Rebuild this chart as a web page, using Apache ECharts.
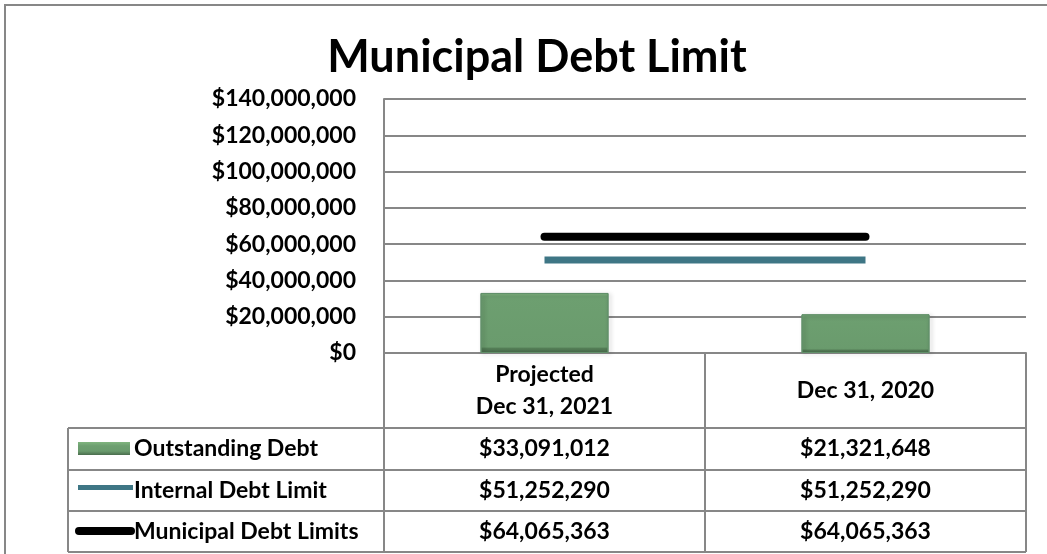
<!DOCTYPE html>
<html>
<head>
<meta charset="utf-8">
<script src="https://cdn.jsdelivr.net/npm/echarts@6/dist/echarts.min.js"></script>
<style>
  html, body { margin: 0; padding: 0; background: #fff; }
  #chart { width: 1047px; height: 554px; }
</style>
</head>
<body>
<div id="chart"></div>
<script>
// data
const categories = ['Projected\nDec 31, 2021', 'Dec 31, 2020']
const outstandingDebt = [33091012, 21321648]
const internalDebtLimit = [51252290, 51252290]
const municipalDebtLimits = [64065363, 64065363]
const seriesNames = ['Outstanding Debt', 'Internal Debt Limit', 'Municipal Debt Limits']

const FONT = 'Lato'
const GRAY = '#878787'
const FS = 23

function money(v) {
  return '$' + Number(v).toLocaleString('en-US')
}

const chart = echarts.init(document.getElementById('chart'))

const option = {
  backgroundColor: '#fff',
  animation: false,
  title: {
    text: 'Municipal Debt Limit',
    left: 532,
    textAlign: 'center',
    top: 30,
    textStyle: { fontFamily: FONT, fontWeight: 'bold', fontSize: 45, color: '#000' }
  },
  grid: { left: 384, right: 21, top: 99, bottom: 201 },
  xAxis: {
    type: 'category',
    data: categories,
    axisLine: { show: true, lineStyle: { color: GRAY, width: 2 } },
    axisTick: { show: true, length: 199, interval: 0, lineStyle: { color: GRAY, width: 2 } },
    axisLabel: {
      interval: 0,
      margin: 38,
      verticalAlign: 'middle',
      lineHeight: 32,
      fontFamily: FONT, fontWeight: 'bold', fontSize: FS, color: '#000'
    }
  },
  yAxis: {
    type: 'value',
    min: 0,
    max: 140000000,
    interval: 20000000,
    axisLine: { show: true, lineStyle: { color: GRAY, width: 2 } },
    splitLine: { lineStyle: { color: GRAY, width: 2 } },
    axisLabel: {
      margin: 28,
      formatter: money,
      fontFamily: FONT, fontWeight: 'bold', fontSize: FS, color: '#000'
    }
  },
  series: [
    {
      name: seriesNames[0],
      type: 'bar',
      data: outstandingDebt,
      barWidth: 128,
      itemStyle: {
        color: new echarts.graphic.LinearGradient(0, 0, 0, 1, [
          { offset: 0, color: '#80b57f' },
          { offset: 0.06, color: '#6d9f70' },
          { offset: 0.9, color: '#6a9b6d' },
          { offset: 0.92, color: '#557f57' },
          { offset: 1, color: '#46684a' }
        ]),
        borderColor: '#62906a',
        borderWidth: 1,
        shadowColor: 'rgba(0,0,0,0.25)',
        shadowBlur: 4,
        shadowOffsetX: 2,
        shadowOffsetY: 1
      }
    },
    {
      name: seriesNames[1],
      type: 'line',
      data: internalDebtLimit,
      symbol: 'none',
      z: 3,
      lineStyle: { color: '#3e7685', width: 7, cap: 'butt' }
    },
    {
      name: seriesNames[2],
      type: 'line',
      data: municipalDebtLimits,
      symbol: 'none',
      z: 4,
      lineStyle: { color: '#000', width: 8, cap: 'round' }
    }
  ]
}

chart.setOption(option)

// data table under the plot
const rowTops = [428, 470, 511, 552]
const tableLeft = 68
const tableRight = 1026
const rows = [outstandingDebt, internalDebtLimit, municipalDebtLimits]
const graphic = []

// outer chart border
graphic.push({
  type: 'rect', silent: true,
  shape: { x: 5, y: 5, width: 1100, height: 600 },
  style: { fill: 'none', stroke: GRAY, lineWidth: 2 }
})

rowTops.forEach(y => {
  graphic.push({
    type: 'line', silent: true,
    shape: { x1: tableLeft, y1: y, x2: tableRight, y2: y },
    style: { stroke: GRAY, lineWidth: 2 }
  })
})
graphic.push({
  type: 'line', silent: true,
  shape: { x1: tableLeft, y1: rowTops[0], x2: tableLeft, y2: rowTops[3] },
  style: { stroke: GRAY, lineWidth: 2 }
})

// legend keys
graphic.push({
  type: 'rect', silent: true,
  shape: { x: 78, y: 442, width: 52, height: 13 },
  style: {
    fill: new echarts.graphic.LinearGradient(0, 0, 0, 1, [
      { offset: 0, color: '#80b57f' },
      { offset: 0.3, color: '#6d9f70' },
      { offset: 0.7, color: '#6a9b6d' },
      { offset: 1, color: '#4a6d4d' }
    ])
  }
})
graphic.push({
  type: 'rect', silent: true,
  shape: { x: 78, y: 485, width: 55, height: 5 },
  style: { fill: '#3e7685' }
})
graphic.push({
  type: 'line', silent: true,
  shape: { x1: 79, y1: 531, x2: 131, y2: 531 },
  style: { stroke: '#000', lineWidth: 8, lineCap: 'round' }
})

rows.forEach((vals, r) => {
  const cy = (rowTops[r] + rowTops[r + 1]) / 2
  graphic.push({
    type: 'text', silent: true,
    style: {
      x: 134, y: cy, text: seriesNames[r],
      fontFamily: FONT, fontWeight: 'bold', fontSize: FS, fill: '#000',
      align: 'left', verticalAlign: 'middle'
    }
  })
  vals.forEach((v, c) => {
    const cx = chart.convertToPixel({ xAxisIndex: 0 }, c)
    graphic.push({
      type: 'text', silent: true,
      style: {
        x: cx, y: cy, text: money(v),
        fontFamily: FONT, fontWeight: 'bold', fontSize: FS, fill: '#000',
        align: 'center', verticalAlign: 'middle'
      }
    })
  })
})

chart.setOption({ graphic: graphic })
</script>
</body>
</html>
